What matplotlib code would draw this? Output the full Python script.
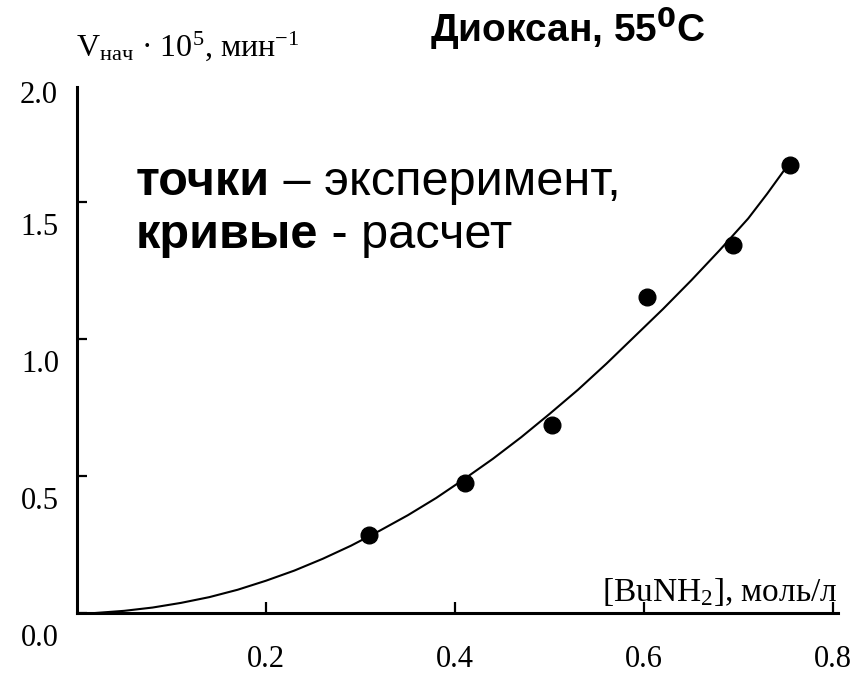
import matplotlib
matplotlib.use("Agg")
import matplotlib.pyplot as plt
from matplotlib.transforms import ScaledTranslation

plt.rcParams["mathtext.fontset"] = "custom"
plt.rcParams["mathtext.rm"] = "Liberation Serif"
plt.rcParams["mathtext.it"] = "Liberation Serif:italic"

# experiment points
conc = [0.309, 0.410, 0.503, 0.603, 0.694, 0.754]
rate = [0.285, 0.474, 0.686, 1.153, 1.343, 1.635]

# calculated curve
calc_x = [0.019, 0.05, 0.08, 0.11, 0.14, 0.17, 0.20, 0.23, 0.26, 0.29,
          0.32, 0.35, 0.38, 0.41, 0.44, 0.47, 0.50, 0.53, 0.56, 0.59,
          0.62, 0.65, 0.68, 0.71, 0.73, 0.752]
calc_y = [0.000, 0.008, 0.020, 0.037, 0.058, 0.085, 0.118, 0.155, 0.198, 0.246,
          0.300, 0.357, 0.420, 0.490, 0.563, 0.642, 0.727, 0.815, 0.910, 1.010,
          1.110, 1.215, 1.325, 1.440, 1.530, 1.635]

x_ticks = [0.2, 0.4, 0.6, 0.8]
x_tick_labels = ["0.2", "0.4", "0.6", "0.8"]
y_ticks = [0.0, 0.5, 1.0, 1.5]
y_tick_labels = ["0.0", "0.5", "1.0", "1.5"]

serif = "Liberation Serif"
sans = "Liberation Sans"

fig = plt.figure(figsize=(8.58, 6.77), dpi=100)
ax = fig.add_axes([0.0897, 0.0945, 0.887, 0.777])

ax.plot(calc_x, calc_y, color="black", lw=1.5, zorder=2)
ax.plot(conc, rate, "o", color="black", ms=12, zorder=3)

ax.set_xlim(0, 0.805)
ax.set_ylim(0, 1.92)

for side in ["top", "right"]:
    ax.spines[side].set_visible(False)
for side in ["left", "bottom"]:
    ax.spines[side].set_linewidth(2.2)

ax.set_xticks(x_ticks, x_tick_labels, fontfamily=serif, fontsize=22)
ax.set_yticks(y_ticks, y_tick_labels, fontfamily=serif, fontsize=22)
ax.tick_params(axis="x", direction="in", length=8, width=1.6, pad=23)
ax.tick_params(axis="y", direction="in", length=7, width=1.6, pad=13)

# y labels sit a bit below their ticks
shift = ScaledTranslation(0, -0.22, fig.dpi_scale_trans)
for lab in ax.get_yticklabels():
    lab.set_transform(lab.get_transform() + shift)
ax.text(0, 1.97, "2.0", fontfamily=serif, fontsize=22, ha="right", va="center",
        transform=ax.get_yaxis_transform()
        + ScaledTranslation(-0.19, -0.22, fig.dpi_scale_trans))

# axis titles
fig.text(0.088, 0.932, r"V$_{\mathrm{нач}}$ · 10$^{5}$, мин$^{-1}$",
         fontfamily=serif, fontsize=23, ha="left", va="center")
ax.text(0.805, 0.02, r"[BuNH$_2$], моль/л", fontfamily=serif, fontsize=24,
        ha="right", va="bottom", transform=ax.transData)

# title
fig.text(0.662, 0.958, r"Диоксан, 55$^{\mathbf{0}}$C", fontfamily=sans,
         fontweight="bold", fontsize=28, ha="center", va="center",
         math_fontfamily="dejavusans")

# note
t1 = ax.text(0.062, 1.525, "точки", fontfamily=sans, fontweight="bold",
             fontsize=35, ha="left", va="baseline")
ax.annotate(" – эксперимент,", xy=(1, 0), xycoords=t1, fontfamily=sans,
            fontsize=35, ha="left", va="bottom")
t2 = ax.text(0.062, 1.332, "кривые", fontfamily=sans, fontweight="bold",
             fontsize=35, ha="left", va="baseline")
ax.annotate(" - расчет", xy=(1, 0), xycoords=t2, fontfamily=sans,
            fontsize=35, ha="left", va="bottom")

fig.savefig("out.png", dpi=100)
